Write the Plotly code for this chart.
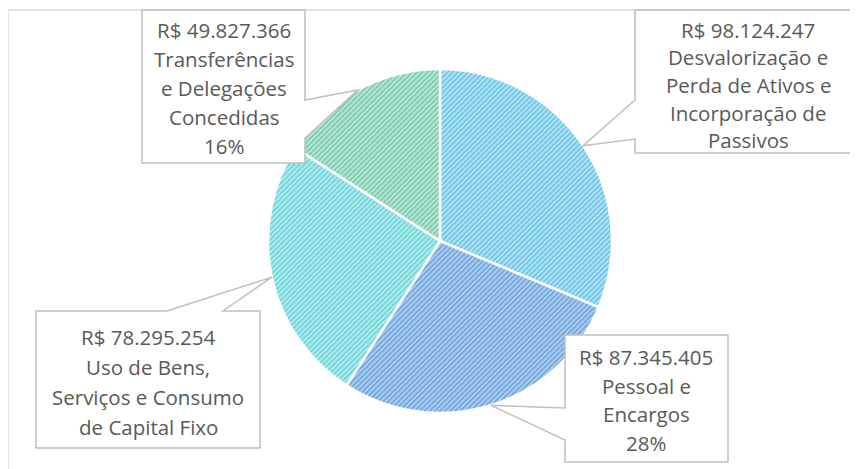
import math
import plotly.graph_objects as go

# ---- data ----
categories = [
    "Desvalorização e Perda de Ativos e Incorporação de Passivos",
    "Pessoal e Encargos",
    "Uso de Bens, Serviços e Consumo de Capital Fixo",
    "Transferências e Delegações Concedidas",
]
values = [98124247, 87345405, 78295254, 49827366]
value_labels = ["R$ 98.124.247", "R$ 87.345.405", "R$ 78.295.254", "R$ 49.827.366"]
label_lines = [
    ["Desvalorização e", "Perda de Ativos e", "Incorporação de", "Passivos"],
    ["Pessoal e", "Encargos"],
    ["Uso de Bens,", "Serviços e Consumo", "de Capital Fixo"],
    ["Transferências", "e Delegações", "Concedidas"],
]
show_percent = [False, True, False, True]

# ---- styling ----
W, H = 858, 469
OFF = 8  # page body margin offset
bg_colors = ["#BFE6F6", "#B6D3F0", "#BDEEF0", "#C3EADB"]
fg_colors = ["#1FA7DE", "#317CCF", "#24BEC3", "#3AAD86"]
text_color = "#595959"
line_color = "#BFBFBF"
font_family = "Open Sans"
font_size = 20.5

cx, cy, R = 440, 241, 172  # pie centre / radius in screen pixels


def px(x):
    return (x - OFF) / W


def py(y):
    return 1 - (y - OFF) / H


fig = go.Figure()
fig.add_trace(go.Pie(
    labels=categories,
    values=values,
    sort=False,
    direction="clockwise",
    rotation=0,
    textinfo="none",
    hoverinfo="label+value+percent",
    showlegend=False,
    domain=dict(x=[px(cx - R), px(cx + R)], y=[py(cy + R), py(cy - R)]),
    marker=dict(
        colors=bg_colors,
        line=dict(color="white", width=2.5),
        pattern=dict(shape="/", fgcolor=fg_colors, size=3.6, solidity=0.55,
                     fillmode="overlay"),
    ),
))

# tip points of callouts computed from the slice mid angles
total = sum(values)
tips = []
cum = 0
for v in values:
    theta = 2 * math.pi * (cum + v / 2) / total
    tips.append((cx + R * math.sin(theta), cy - R * math.cos(theta)))
    cum += v

shapes = []
# outer chart frame
shapes.append(dict(type="rect", xref="paper", yref="paper",
                   x0=px(8), x1=px(900), y0=py(10), y1=py(500),
                   line=dict(color="#D9D9D9", width=1.5), fillcolor="rgba(0,0,0,0)",
                   layer="below"))


def path(points):
    s = "M " + " L ".join(f"{px(x):.5f},{py(y):.5f}" for x, y in points) + " Z"
    return dict(type="path", xref="paper", yref="paper", path=s,
                line=dict(color=line_color, width=1.5), fillcolor="white", layer="above")


t0, t1, t2, t3 = tips
# Desvalorização (box right of pie, wedge on left side)
shapes.append(path([(635, 10), (855, 10), (855, 153), (635, 153), (635, 139), t0, (635, 100)]))
# Pessoal (box bottom right, wedge on left side)
shapes.append(path([(565, 335), (728, 335), (728, 462), (565, 462), (565, 440), t1, (565, 408)]))
# Uso de Bens (box bottom left, wedge on top)
shapes.append(path([(36, 311), (167, 311), t2, (223, 311), (260, 311), (260, 448), (36, 448)]))
# Transferências (box top left, wedge on right side)
shapes.append(path([(142, 10), (305, 10), (305, 100), t3, (305, 138), (305, 163), (142, 163)]))

# text layout: (centre x, centre y, line spacing)
text_pos = [(748, 85, 27.5), (646, 400, 28.5), (148, 382, 30), (224, 88, 29.2)]

annotations = []
for i in range(len(values)):
    pct = round(100 * values[i] / total)
    lines = [value_labels[i]] + label_lines[i] + ([f"{pct}%"] if show_percent[i] else [])
    xc, yc, sp = text_pos[i]
    n = len(lines)
    for j, ln in enumerate(lines):
        y = yc + (j - (n - 1) / 2) * sp
        annotations.append(dict(x=px(xc), y=py(y), xref="paper", yref="paper",
                                text=ln, showarrow=False, xanchor="center", yanchor="middle",
                                font=dict(family=font_family, size=font_size, color=text_color)))

fig.update_layout(
    width=W, height=H,
    margin=dict(l=0, r=0, t=0, b=0),
    paper_bgcolor="white",
    plot_bgcolor="white",
    shapes=shapes,
    annotations=annotations,
)

fig.write_html("out.html")
